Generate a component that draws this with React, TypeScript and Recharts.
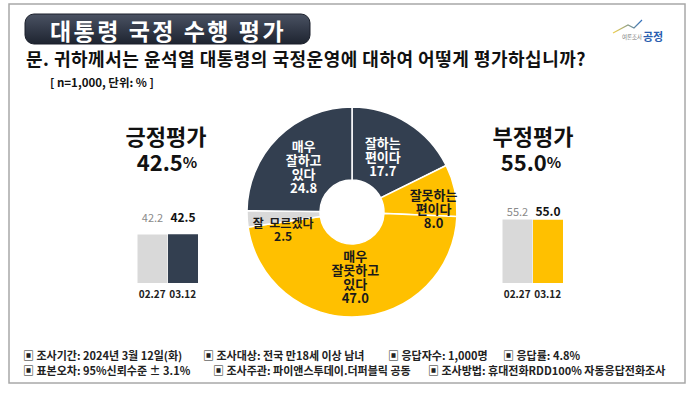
import { PieChart, Pie, Cell, BarChart, Bar, XAxis, YAxis, LabelList } from 'recharts';

const FONT = '"Noto Sans CJK KR", "Noto Sans", sans-serif';

// 도넛: 12시 방향부터 시계방향
const sliceNames = ['잘하는\n편이다', '잘못하는\n편이다', '매우\n잘못하고\n있다', '잘  모르겠다', '매우\n잘하고\n있다'];
const sliceValues = [17.7, 8.0, 47.0, 2.5, 24.8];
const sliceColors = ['#333f50', '#ffc000', '#ffc000', '#d9d9d9', '#333f50'];
const sliceTextColors = ['#ffffff', '#1a1a1a', '#1a1a1a', '#1a1a1a', '#ffffff'];

// 직전 조사 비교
const waveDates = ['02.27', '03.12'];
const positiveValues = [42.2, 42.5];
const negativeValues = [55.2, 55.0];

const footerLine1 = ['▣ 조사기간: 2024년 3월 12일(화)', '▣ 조사대상: 전국 만18세 이상 남녀', '▣ 응답자수: 1,000명', '▣ 응답률: 4.8%'];
const footerLine2 = ['▣ 표본오차: 95%신뢰수준 ± 3.1%', '▣ 조사주관: 파이앤스투데이.더퍼블릭 공동', '▣ 조사방법: 휴대전화RDD100% 자동응답전화조사'];

// label nudges so text sits where the original has it
const labelNudge = [[-4, 0], [17, 10], [0, -2], [-3, 12], [-2, 1]];

const RAD = Math.PI / 180;

const renderSliceLabel = (props: any) => {
    const { cx, cy, midAngle, index } = props;
    const r = 66;
    const [dx, dy] = labelNudge[index];
    const x = cx + r * Math.cos(-midAngle * RAD) + dx;
    const y = cy + r * Math.sin(-midAngle * RAD) + dy;
    const lines = [...sliceNames[index].split('\n'), sliceValues[index].toFixed(1)];
    const small = lines.length === 2 && index === 3;
    const lh = small ? 13 : 14;
    const startY = y - ((lines.length - 1) * lh) / 2;
    return (
        <text
            x={x}
            y={startY}
            textAnchor='middle'
            dominantBaseline='central'
            fill={sliceTextColors[index]}
            fontSize={small ? 12 : 13}
            fontWeight={700}
            fontFamily={FONT}
            style={{ whiteSpace: 'pre' }}
        >
            {lines.map((l, i) => (
                <tspan key={i} x={x} y={startY + i * lh}>
                    {l}
                </tspan>
            ))}
        </text>
    );
};

function WaveBars({ values, color, labelOffset }: { values: number[]; color: string; labelOffset: number }) {
    const data = waveDates.map((d, i) => ({ date: d, value: values[i] }));
    return (
        <BarChart width={61} height={119} data={data} margin={{ top: 25, right: 0, bottom: 0, left: 0 }} barCategoryGap={0.5}>
            <XAxis
                dataKey='date'
                axisLine={false}
                tickLine={false}
                interval={0}
                height={25}
                tick={{ fontSize: 10, fontWeight: 700, fill: '#222', fontFamily: FONT }}
            />
            <YAxis hide domain={[0, 60]} />
            <Bar dataKey='value' isAnimationActive={false}>
                {data.map((_, i) => (
                    <Cell key={i} fill={i === 0 ? '#d9d9d9' : color} />
                ))}
                <LabelList
                    dataKey='value'
                    content={(p: any) => {
                        const last = p.index === data.length - 1;
                        return (
                            <text
                                x={p.x + p.width / 2}
                                y={p.y - labelOffset}
                                textAnchor='middle'
                                fontFamily={FONT}
                                fontSize={last ? 12 : 11}
                                fontWeight={last ? 700 : 400}
                                fill={last ? '#111' : '#8a8a8a'}
                            >
                                {Number(p.value).toFixed(1)}
                            </text>
                        );
                    }}
                />
            </Bar>
        </BarChart>
    );
}

export default function App() {
    const pieData = sliceNames.map((name, i) => ({ name, value: sliceValues[i] }));

    return (
        <div style={{ position: 'absolute', left: 0, top: 0, width: 698, height: 393, background: '#fff', fontFamily: FONT }}>
            <svg width={698} height={393} style={{ position: 'absolute', left: 0, top: 0 }}>
                <defs>
                    <linearGradient id='titleBg' x1='0' y1='0' x2='0' y2='1'>
                        <stop offset='0%' stopColor='#4a5263' />
                        <stop offset='100%' stopColor='#1e2430' />
                    </linearGradient>
                    <linearGradient id='logoLine' x1='0' y1='0' x2='1' y2='0'>
                        <stop offset='0%' stopColor='#f2d04a' />
                        <stop offset='100%' stopColor='#2f6fc0' />
                    </linearGradient>
                </defs>
                <rect x={9} y={4} width={676} height={379} fill='#fff' stroke='#a8a8a8' strokeWidth={1.5} />

                <rect x={25} y={14} width={285} height={30} rx={9} fill='url(#titleBg)' stroke='#1a1f2a' />
                <text x={168} y={30} textAnchor='middle' dominantBaseline='central' fill='#fff' fontSize={23} fontWeight={700} letterSpacing={2.5}>
                    대통령 국정 수행 평가
                </text>

                <polyline points='613,33 628,25 634,28 642,20' fill='none' stroke='url(#logoLine)' strokeWidth={1.2} />
                <text x={632} y={37} textAnchor='middle' dominantBaseline='central' fill='#777' fontSize={5.5}>
                    여론조사
                </text>
                <text x={653} y={36} textAnchor='middle' dominantBaseline='central' fill='#2a5db0' fontSize={11} fontWeight={700}>
                    공정
                </text>

                <text x={26} y={58} dominantBaseline='central' fill='#111' fontSize={18} fontWeight={700} letterSpacing={0.5}>
                    문. 귀하께서는 윤석열 대통령의 국정운영에 대하여 어떻게 평가하십니까?
                </text>
                <text x={50} y={82} dominantBaseline='central' fill='#111' fontSize={11.5} fontWeight={700}>
                    [ n=1,000, 단위: % ]
                </text>

                <text x={166} y={135} textAnchor='middle' dominantBaseline='central' fill='#111' fontSize={22} fontWeight={700}>
                    긍정평가
                </text>
                <text x={167} y={161} textAnchor='middle' dominantBaseline='central' fill='#111' fontSize={22} fontWeight={700}>
                    42.5<tspan fontSize={15}>%</tspan>
                </text>
                <text x={533} y={135} textAnchor='middle' dominantBaseline='central' fill='#111' fontSize={22} fontWeight={700}>
                    부정평가
                </text>
                <text x={531} y={161} textAnchor='middle' dominantBaseline='central' fill='#111' fontSize={22} fontWeight={700}>
                    55.0<tspan fontSize={15}>%</tspan>
                </text>

                {footerLine1.map((t, i) => (
                    <text key={t} x={[23, 203, 388, 503][i]} y={355} dominantBaseline='central' fill='#222' fontSize={11} fontWeight={700} style={{ whiteSpace: 'pre' }}>
                        {t}
                    </text>
                ))}
                {footerLine2.map((t, i) => (
                    <text key={t} x={[23, 213, 428][i]} y={370} dominantBaseline='central' fill='#222' fontSize={11} fontWeight={700} style={{ whiteSpace: 'pre' }}>
                        {t}
                    </text>
                ))}
            </svg>

            <div style={{ position: 'absolute', left: 232, top: 92 }}>
                <PieChart width={240} height={240}>
                    <Pie
                        data={pieData}
                        dataKey='value'
                        nameKey='name'
                        cx='50%'
                        cy='50%'
                        innerRadius={32}
                        outerRadius={105}
                        startAngle={90}
                        endAngle={-270}
                        stroke='#ffffff'
                        strokeWidth={1.5}
                        labelLine={false}
                        label={renderSliceLabel}
                        isAnimationActive={false}
                    >
                        {pieData.map((_, i) => (
                            <Cell key={`cell-${i}`} fill={sliceColors[i]} />
                        ))}
                    </Pie>
                </PieChart>
            </div>

            <div style={{ position: 'absolute', left: 137, top: 189 }}>
                <WaveBars values={positiveValues} color='#333f50' labelOffset={12} />
            </div>
            <div style={{ position: 'absolute', left: 502, top: 189 }}>
                <WaveBars values={negativeValues} color='#ffc000' labelOffset={4} />
            </div>
        </div>
    );
}
